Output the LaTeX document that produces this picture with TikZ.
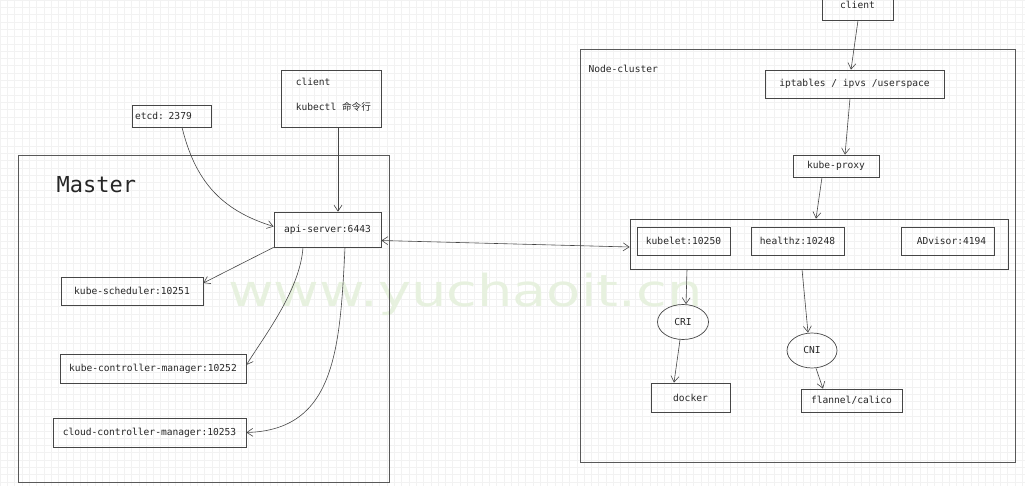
\documentclass[tikz,border=0pt]{standalone}
\usepackage{fontspec}
\setmonofont{DejaVu Sans Mono}
\newfontfamily\cjk{Noto Sans CJK SC}
\newfontfamily\markfont{DejaVu Sans}
\usetikzlibrary{positioning,arrows.meta,shapes.geometric}
\definecolor{linegray}{RGB}{70,70,70}
\definecolor{gridgray}{RGB}{242,242,242}
\definecolor{markgreen}{RGB}{231,241,223}

\begin{document}
\begin{tikzpicture}[x=1pt,y=-1pt,
  every node/.style={font=\ttfamily\fontsize{9.6}{12}\selectfont,text=black!85},
  box/.style={draw=linegray,line width=0.7pt,inner sep=0pt},
  oval/.style={ellipse,draw=linegray,line width=0.7pt,inner sep=0pt},
  frame/.style={draw=linegray!90,line width=0.8pt,inner sep=0pt},
  arr/.style={draw=linegray,line width=0.6pt,-{Straight Barb[length=6pt,width=8pt]}}]
\useasboundingbox (0,0) rectangle (1025,486);
\clip (0,0) rectangle (1025,486);
% grid paper
\foreach \gx in {0,7.3,...,1025} \draw[gridgray,line width=0.4pt] (\gx,0) -- (\gx,486);
\foreach \gy in {0,7.3,...,486} \draw[gridgray,line width=0.4pt] (0,\gy) -- (1025,\gy);
\node[font=\markfont\fontsize{44}{44}\selectfont,text=markgreen,anchor=base west,inner sep=0pt,xscale=1.27] (mark) at (228,306) {www.yuchaoit.cn};

% master side
\node[frame,minimum width=371pt,minimum height=327pt] (master) at (203.5,318.5) {};
\node[anchor=west,font=\ttfamily\fontsize{22}{24}\selectfont] (mlbl) at (53,185) {Master};
\node[box,minimum width=79pt,minimum height=22pt,text width=73pt,align=left] (etcd) at (171.5,116) {etcd: 2379};
\node[box,minimum width=100pt,minimum height=57pt] (cli) at (331,98.5) {};
\node[anchor=north west,align=left,inner sep=0pt] (clitxt) at ([xshift=15pt,yshift=-8pt]cli.north west) {client\\[13pt]kubectl {\cjk 命令行}};
\node[box,minimum width=107pt,minimum height=35pt] (api) at (327.5,229.5) {api-server:6443};
\node[box,minimum width=142pt,minimum height=28pt] (sched) at (132,291) {kube-scheduler:10251};
\node[box,minimum width=186pt,minimum height=29pt] (kcm) at (153,368.5) {kube-controller-manager:10252};
\node[box,minimum width=193pt,minimum height=29pt] (ccm) at (149.5,432.5) {cloud-controller-manager:10253};

% node side
\node[frame,minimum width=435pt,minimum height=413pt] (ncl) at (797.5,255.5) {};
\node[anchor=west] (nlbl) at (585,69) {Node-cluster};
\node[box,minimum width=71pt,minimum height=30pt] (client) at (857.5,5) {client};
\node[box,minimum width=179pt,minimum height=28pt] (ipt) at (854.5,84) {iptables / ipvs /userspace};
\node[box,minimum width=86pt,minimum height=22pt] (proxy) at (836,166) {kube-proxy};
\node[box,minimum width=378pt,minimum height=50pt] (grp) at (819,244) {};
\node[box,minimum width=93pt,minimum height=28pt] (kubelet) at (683.5,241) {kubelet:10250};
\node[box,minimum width=93pt,minimum height=28pt] (health) at (797.5,241) {healthz:10248};
\node[box,minimum width=93pt,minimum height=28pt] (adv) at (947.5,241) {\hspace*{8pt}ADvisor:4194};
\node[oval,minimum width=51pt,minimum height=35pt] (cri) at (683,322) {CRI};
\node[oval,minimum width=50pt,minimum height=35pt] (cni) at (812,350.5) {CNI};
\node[box,minimum width=79pt,minimum height=29pt] (docker) at (690.5,397.5) {docker};
\node[box,minimum width=101pt,minimum height=23pt] (flannel) at (851.5,400.5) {flannel/calico};

% connectors
\draw[arr] ([xshift=10.5pt]etcd.south) .. controls (195,180) and (220,210) .. ([yshift=3pt]api.west);
\draw[arr] ([xshift=7pt]cli.south) -- ([xshift=10.5pt]api.north);
\draw[arr] (api.south west) -- ([yshift=8pt]sched.east);
\draw[arr] ([xshift=-24.5pt]api.south) .. controls (300,290) and (265,335) .. ([yshift=3.5pt]kcm.east);
\draw[arr] ([xshift=17.5pt]api.south) .. controls (340,350) and (335,430) .. (ccm.east);
\draw[arr,{Straight Barb[length=6pt,width=8pt]}-{Straight Barb[length=6pt,width=8pt]}] ([yshift=-11pt]api.east) -- ([yshift=-3pt]grp.west);
\draw[arr] ([xshift=0.5pt]client.south) -- ([xshift=-3.5pt]ipt.north);
\draw[arr] ([xshift=-4.5pt]ipt.south) -- ([xshift=9pt]proxy.north);
\draw[arr] ([xshift=-14pt]proxy.south) -- ([xshift=-3pt]grp.north);
\draw[arr] ([xshift=-132pt]grp.south) -- ([xshift=3pt]cri.north);
\draw[arr] ([xshift=-17pt]grp.south) -- ([xshift=-4pt]cni.north);
\draw[arr] ([xshift=-3pt]cri.south) -- ([xshift=-16.5pt]docker.north);
\draw[arr] ([xshift=4pt]cni.south) -- ([xshift=-28.5pt]flannel.north);
\end{tikzpicture}
\end{document}
